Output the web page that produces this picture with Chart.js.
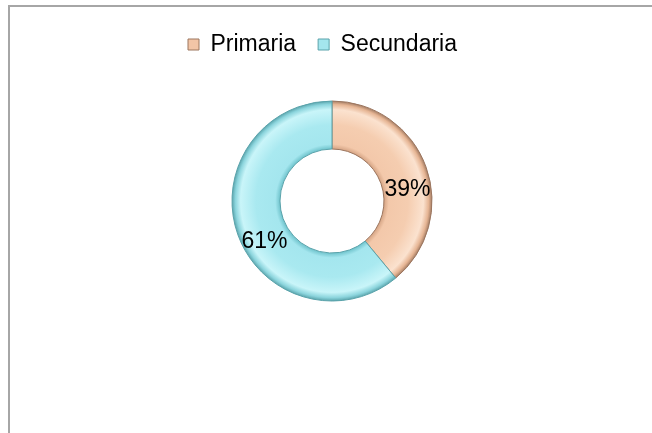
<!DOCTYPE html>
<html>
<head>
<meta charset="utf-8">
<script src="https://cdn.jsdelivr.net/npm/chart.js@4/dist/chart.umd.min.js"></script>
<style>
  html, body { margin: 0; padding: 0; background: #ffffff; }
  #wrap { position: relative; width: 652px; height: 433px; }
</style>
</head>
<body>
<div id="wrap"><canvas id="c" width="652" height="433"></canvas></div>
<script>
const categories = ['Primaria', 'Secundaria'];
const values = [39, 61];
const baseColors = ['#f2c5a6', '#a4e6ee'];
const edgeColors = ['#9c765f', '#5aa3ab'];
const rampStops = [
  ['#d6a585', '#f3c8aa', '#f5cdb0', '#fbe2cf', '#e6b594', '#a47d64'],
  ['#70c4cd', '#a4e6ee', '#a9e9f0', '#c9f5f9', '#8cd5dd', '#5ca6ae']
];
const stopPos = [0, 0.1, 0.5, 0.82, 0.93, 1];

function ringFill(ctx) {
  const chart = ctx.chart;
  const i = ctx.dataIndex;
  const meta = chart.getDatasetMeta(0);
  const ctrl = meta && meta.controller;
  const area = chart.chartArea;
  if (!area || !ctrl || !ctrl.outerRadius) return baseColors[i];
  const cx = (area.left + area.right) / 2 + (ctrl.offsetX || 0);
  const cy = (area.top + area.bottom) / 2 + (ctrl.offsetY || 0);
  const g = chart.ctx.createRadialGradient(cx, cy, ctrl.innerRadius, cx, cy, ctrl.outerRadius);
  rampStops[i].forEach((c, k) => g.addColorStop(stopPos[k], c));
  return g;
}

const frame = {
  id: 'frame',
  beforeDraw(chart) {
    const c = chart.ctx;
    c.save();
    c.fillStyle = '#ffffff';
    c.fillRect(0, 0, chart.width, chart.height);
    c.fillStyle = '#a6a6a6';
    c.fillRect(8, 5, chart.width - 8, 2);
    c.fillRect(8, 5, 2, chart.height - 5);
    c.restore();
  }
};

const pctLabels = {
  id: 'pctLabels',
  afterDatasetsDraw(chart) {
    const meta = chart.getDatasetMeta(0);
    const total = values.reduce((a, b) => a + b, 0);
    const c = chart.ctx;
    c.save();
    c.font = '23px "Liberation Sans", Arial, sans-serif';
    c.fillStyle = '#000000';
    c.textAlign = 'center';
    c.textBaseline = 'top';
    meta.data.forEach((arc, i) => {
      const p = arc.tooltipPosition();
      const txt = Math.round(values[i] / total * 100) + '%';
      c.fillText(txt, p.x + 4, p.y + 3);
    });
    c.restore();
  }
};

new Chart(document.getElementById('c'), {
  type: 'doughnut',
  data: {
    labels: categories,
    datasets: [{
      data: values,
      backgroundColor: ringFill,
      borderColor: edgeColors,
      borderWidth: 1,
      radius: 100,
      cutout: '52%'
    }]
  },
  options: {
    responsive: false,
    animation: false,
    events: [],
    layout: { padding: { left: 166, right: 154, top: 11, bottom: 97 } },
    plugins: {
      tooltip: { enabled: false },
      legend: {
        position: 'top',
        align: 'start',
        labels: {
          boxWidth: 11,
          boxHeight: 11,
          padding: 22,
          color: '#000000',
          font: { family: '"Liberation Sans", Arial, sans-serif', size: 23 },
          generateLabels(chart) {
            return categories.map((name, i) => ({
              text: name,
              fillStyle: baseColors[i],
              strokeStyle: edgeColors[i],
              lineWidth: 1,
              hidden: false,
              index: i
            }));
          }
        }
      }
    }
  },
  plugins: [frame, pctLabels]
});
</script>
</body>
</html>
